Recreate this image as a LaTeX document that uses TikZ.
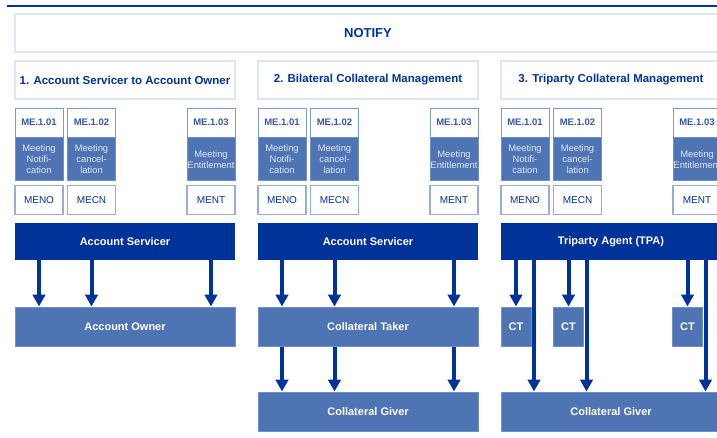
\documentclass[tikz,border=0pt]{standalone}
\usepackage{fontspec}
\setmainfont{Liberation Sans}
\usetikzlibrary{arrows.meta,positioning}
\definecolor{navy}{RGB}{0,51,153}
\definecolor{steel}{RGB}{79,116,180}
\definecolor{steeledge}{RGB}{112,145,200}
\definecolor{haze}{RGB}{224,230,240}
\definecolor{cardedge}{RGB}{125,155,205}
\definecolor{codeedge}{RGB}{150,175,215}
\definecolor{numtext}{RGB}{55,88,165}
\definecolor{paletext}{RGB}{225,232,245}
\tikzset{
	frame/.style={
		rectangle, draw=haze, line width=1.5pt, fill=white,
		text=navy, inner sep=0pt, minimum height=38pt,
		font=\fontsize{11.5}{13}\selectfont\bfseries,
	},
	num/.style={
		rectangle, draw=cardedge, line width=0.8pt, fill=white, text=numtext,
		minimum width=48pt, minimum height=29pt, inner sep=0pt,
		font=\fontsize{9.5}{11}\selectfont\bfseries,
	},
	msg/.style={
		rectangle, draw=steeledge, line width=0.5pt, fill=steel, text=paletext,
		minimum width=48pt, minimum height=43pt, inner sep=0pt, align=center,
		font=\fontsize{9.4}{11}\selectfont,
	},
	code/.style={
		rectangle, draw=codeedge, line width=1.2pt, fill=white, text=navy,
		minimum width=48pt, minimum height=29pt, inner sep=0pt,
		font=\fontsize{10}{12}\selectfont,
	},
	agent/.style={
		rectangle, fill=navy, text=white, inner sep=0pt,
		minimum width=220pt, minimum height=37pt,
		font=\fontsize{11}{13}\selectfont\bfseries,
	},
	party/.style={
		rectangle, draw=steeledge, line width=1pt, fill=steel, text=white,
		inner sep=0pt, minimum height=39pt,
		font=\fontsize{11}{13}\selectfont\bfseries,
	},
	flow/.style={
		draw=navy, line width=4pt, -{Triangle[width=12.5pt,length=12pt]},
	}
}

\begin{document}
\begin{tikzpicture}[x=1pt,y=-1pt]
		\useasboundingbox (0,0) rectangle (717,438);
		\clip (0,0) rectangle (717,438);
		\draw [navy, line width=1.3pt] (7,6) -- (717,6);
		
		\node [frame, minimum width=706pt, font=\fontsize{13}{15}\selectfont\bfseries] (notify) at (368,33) {NOTIFY};
		\node [frame, minimum width=220pt] (head1) at (125,80) {1. Account Servicer to Account Owner};
		\node [frame, minimum width=220pt] (head2) at (368,80) {2. Bilateral Collateral Management};
		\node [frame, minimum width=220pt] (head3) at (611,80) {3. Triparty Collateral Management};
		
		% message cards, one row per business case
		\foreach \k/\s in {a/0,b/243,c/486}{
			\foreach \c/\x/\id/\m/\cd in {1/39/01/{Meeting\\Notifi-\\cation}/MENO, 2/91.5/02/{Meeting\\cancel-\\lation}/MECN, 3/211/03/{Meeting\\Entitlement}/MENT}{
				\node [num] (num\k\c) at (\x+\s,122.5) {ME.1.\id};
				\node [msg, below=0pt of num\k\c] (msg\k\c) {\m};
				\node [code, below=4pt of msg\k\c] (code\k\c) {\cd};
			}
		}
		
		\node [agent] (servicer1) at (125,241.5) {Account Servicer};
		\node [agent] (servicer2) at (368,241.5) {Account Servicer};
		\node [agent] (tpa) at (611,241.5) {Triparty Agent (TPA)};
		
		\node [party, minimum width=220pt] (owner) at (125,326.5) {Account Owner};
		\node [party, minimum width=220pt] (taker) at (368,326.5) {Collateral Taker};
		\node [party, minimum width=220pt] (giver2) at (368,411.5) {Collateral Giver};
		\node [party, minimum width=30pt] (ct1) at (516,326.5) {CT};
		\node [party, minimum width=30pt] (ct2) at (568.5,326.5) {CT};
		\node [party, minimum width=30pt] (ct3) at (687.5,326.5) {CT};
		\node [party, minimum width=220pt] (giver3) at (611,411.5) {Collateral Giver};
		
		\path [flow] (servicer1.south -| numa1) -- (owner.north -| numa1);
		\path [flow] (servicer1.south -| numa2) -- (owner.north -| numa2);
		\path [flow] (servicer1.south -| numa3) -- (owner.north -| numa3);
		
		\path [flow] (servicer2.south -| numb1) -- (taker.north -| numb1);
		\path [flow] (servicer2.south -| numb2) -- (taker.north -| numb2);
		\path [flow] (servicer2.south -| numb3) -- (taker.north -| numb3);
		\path [flow] (taker.south -| numb1) -- (giver2.north -| numb1);
		\path [flow] (taker.south -| numb2) -- (giver2.north -| numb2);
		\path [flow] (taker.south -| numb3) -- (giver2.north -| numb3);
		
		\path [flow] (tpa.south -| ct1) -- (ct1.north);
		\path [flow] (tpa.south -| ct2) -- (ct2.north);
		\path [flow] (tpa.south -| ct3) -- (ct3.north);
		\path [flow] ([xshift=2.5pt]tpa.south -| ct1.east) -- ([xshift=2.5pt]giver3.north -| ct1.east);
		\path [flow] ([xshift=2.5pt]tpa.south -| ct2.east) -- ([xshift=2.5pt]giver3.north -| ct2.east);
		\path [flow] ([xshift=2.5pt]tpa.south -| ct3.east) -- ([xshift=2.5pt]giver3.north -| ct3.east);
\end{tikzpicture}
\end{document}
